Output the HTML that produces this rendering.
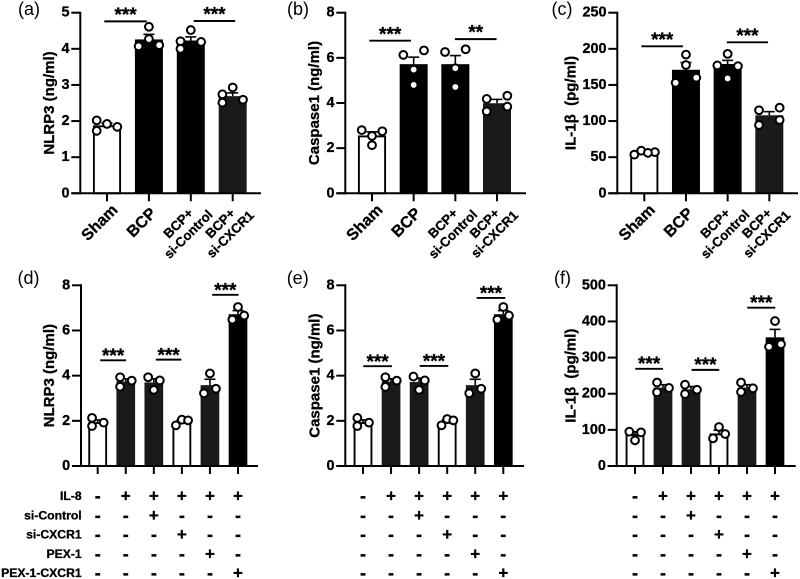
<!DOCTYPE html>
<html>
<head>
<meta charset="utf-8">
<style>
html,body{margin:0;padding:0;background:#fff;}
svg{display:block;filter:blur(0.3px);}
text{font-family:"Liberation Sans",sans-serif;fill:#000;}
text.heavy{stroke:#000;stroke-width:0.3px;}
</style>
</head>
<body>
<svg id="figure" width="800" height="579" viewBox="0 0 800 579" xmlns="http://www.w3.org/2000/svg"></svg>
<script>
// Categories and tick labels
const topCategories = [["Sham"], ["BCP"], ["BCP+", "si-Control"], ["BCP+", "si-CXCR1"]];
const treatmentNames = ["IL-8", "si-Control", "si-CXCR1", "PEX-1", "PEX-1-CXCR1"];
const treatmentSigns = [
  ["-", "+", "+", "+", "+", "+"],
  ["-", "-", "+", "-", "-", "-"],
  ["-", "-", "-", "+", "-", "-"],
  ["-", "-", "-", "-", "+", "-"],
  ["-", "-", "-", "-", "-", "+"]
];
const aTicks = [0, 1, 2, 3, 4, 5];
const bTicks = [0, 2, 4, 6, 8];
const cTicks = [0, 50, 100, 150, 200, 250];
const dTicks = [0, 2, 4, 6, 8];
const eTicks = [0, 2, 4, 6, 8];
const fTicks = [0, 100, 200, 300, 400, 500];

// Series values
const aMeans = [1.88, 4.26, 4.23, 2.69];
const aErrors = [0.06, 0.14, 0.10, 0.09];
const aPoints = [[2.02, 1.92, 1.84, 1.73], [4.61, 4.27, 4.07, 4.10], [4.52, 4.21, 4.19, 4.00], [2.93, 2.74, 2.59, 2.51]];
const aSlots = [[-1, 0, 1, -1], [0, 0, -1, 1], [0, -1, 1, -1], [0, -1, 1, -1]];

const bMeans = [2.56, 5.72, 5.72, 3.99];
const bErrors = [0.16, 0.31, 0.38, 0.17];
const bPoints = [[2.80, 2.75, 2.54, 2.13], [6.33, 6.13, 5.48, 4.80], [6.38, 6.26, 5.54, 4.71], [4.32, 4.18, 3.84, 3.63]];
const bSlots = [[-1, 1, 0, 0], [1, -1, 0, 0], [1, -1, 0, 0], [1, -1, 1, -1]];

const cMeans = [56, 171, 179, 108];
const cErrors = [2, 10, 5, 5];
const cPoints = [[59, 57, 56, 53.5], [192, 177.6, 160, 153], [193, 177, 176, 159], [118.5, 115, 101.5, 94.5]];
const cSlots = [[-0.3, 1.03, 0.35, -0.97], [0, 0, 1, -1], [0, -1, 1, 0], [1, -1, 1, -1]];

const dMeans = [1.94, 3.74, 3.70, 1.95, 3.58, 6.72];
const dErrors = [0.10, 0.12, 0.16, 0.08, 0.26, 0.16];
const dPoints = [[2.13, 1.92, 1.77], [3.93, 3.78, 3.51], [3.93, 3.79, 3.37], [2.05, 2.02, 1.80], [4.10, 3.42, 3.22], [7.04, 6.66, 6.48]];
const dSlots = [[-0.55, 0.58, -0.55], [-0.55, 0.58, -0.55], [-0.55, 0.58, 0], [0, 0.6, -0.58], [0, 0.58, -0.58], [0, 0.6, -0.55]];

const eMeans = [1.94, 3.74, 3.72, 1.95, 3.58, 6.72];
const eErrors = [0.10, 0.12, 0.17, 0.08, 0.26, 0.16];
const ePoints = [[2.13, 1.92, 1.77], [3.93, 3.78, 3.50], [3.96, 3.79, 3.37], [2.08, 2.02, 1.80], [4.10, 3.42, 3.22], [7.04, 6.66, 6.48]];
const eSlots = [[-0.55, 0.58, -0.55], [-0.55, 0.55, -0.55], [-0.55, 0.55, 0], [0, 0.6, -0.55], [0, 0.58, -0.58], [0, 0.55, -0.58]];

const fMeans = [88, 217, 212, 90, 217, 356];
const fErrors = [7, 8, 8, 9, 8, 22];
const fPoints = [[95, 93, 71], [231, 216, 204], [225, 211, 199], [108, 88.6, 76.6], [231, 215, 205], [401, 337, 330]];
const fSlots = [[-0.55, 0.58, 0], [-0.58, 0.58, -0.58], [-0.58, 0.58, -0.58], [0, 0.6, -0.58], [-0.58, 0.58, -0.58], [0, 0.58, -0.58]];

// Significance brackets: from category, to category, level, label
const aSig = [[-0.065, 0.95, 4.76, "***"], [2.07, 3.06, 4.77, "***"]];
const bSig = [[-0.065, 0.936, 6.76, "***"], [1.99, 2.99, 6.83, "**"]];
const cSig = [[-0.07, 0.93, 203.5, "***"], [1.98, 2.97, 209, "***"]];
const dSig = [[0.09, 1.01, 4.68, "***"], [2.07, 2.98, 4.71, "***"], [4.08, 5.02, 7.58, "***"]];
const eSig = [[0.01, 1.03, 4.42, "***"], [2.02, 3.04, 4.43, "***"], [4.05, 5.07, 7.44, "***"]];
const fSig = [[0.01, 1, 269, "***"], [2.02, 3.01, 266, "***"], [4.01, 5.01, 438, "***"]];

const panels = [
  {id:"a", title:"NLRP3 (ng/ml)", titleX:49.5, axisX:80.3, firstX:107, step:41.9, endX:261, y0:193.3, yTop:12.7, barW:28, slotPx:10.3, starDy:-10.4, labelX:18, labelY:15, means:aMeans, errors:aErrors, points:aPoints, slots:aSlots, ticks:aTicks, sig:aSig, fills:["#fff","#000","#000","#1a1a1a"]},
  {id:"b", title:"Caspase1 (ng/ml)", titleX:314.5, axisX:345.3, firstX:372, step:41.67, endX:526, y0:193.3, yTop:12.7, barW:28, slotPx:10.3, starDy:-10.4, labelX:287, labelY:15, means:bMeans, errors:bErrors, points:bPoints, slots:bSlots, ticks:bTicks, sig:bSig, fills:["#fff","#000","#000","#1a1a1a"]},
  {id:"c", title:"IL-1\u03B2\u00A0 (pg/ml)", titleX:571.2, axisX:617.3, firstX:644.3, step:41.67, endX:798, y0:193.3, yTop:12.7, barW:28, slotPx:10.3, starDy:-10.4, labelX:551.5, labelY:15, means:cMeans, errors:cErrors, points:cPoints, slots:cSlots, ticks:cTicks, sig:cSig, fills:["#fff","#000","#000","#1a1a1a"]},
  {id:"d", title:"NLRP3 (ng/ml)", titleX:49.5, axisX:81, firstX:97.7, step:28.06, endX:258, y0:466, yTop:285.3, barW:18.7, slotPx:10.3, starDy:-8.2, labelX:17.5, labelY:284, means:dMeans, errors:dErrors, points:dPoints, slots:dSlots, ticks:dTicks, sig:dSig, fills:["#fff","#1a1a1a","#1a1a1a","#fff","#1a1a1a","#000"]},
  {id:"e", title:"Caspase1 (ng/ml)", titleX:314.8, axisX:345.3, firstX:363, step:28.06, endX:524, y0:466, yTop:285.3, barW:18.7, slotPx:10.3, starDy:-8.4, labelX:286.7, labelY:284, means:eMeans, errors:eErrors, points:ePoints, slots:eSlots, ticks:eTicks, sig:eSig, fills:["#fff","#1a1a1a","#1a1a1a","#fff","#1a1a1a","#000"]},
  {id:"f", title:"IL-1\u03B2\u00A0 (pg/ml)", titleX:571.2, axisX:616.7, firstX:635, step:28, endX:795.7, y0:466, yTop:285.3, barW:18.7, slotPx:10.3, starDy:-8.8, labelX:554, labelY:284, means:fMeans, errors:fErrors, points:fPoints, slots:fSlots, ticks:fTicks, sig:fSig, fills:["#fff","#1a1a1a","#1a1a1a","#fff","#1a1a1a","#000"]}
];

const NS = "http://www.w3.org/2000/svg";
const figure = document.getElementById("figure");

function make(tag, parent, attrs, content) {
  const node = document.createElementNS(NS, tag);
  for (const key in attrs) node.setAttribute(key, attrs[key]);
  if (content !== undefined) node.textContent = content;
  parent.appendChild(node);
  return node;
}

function drawPanel(p) {
  const group = make("g", figure, {});
  
  

  const maxTick = p.ticks[p.ticks.length - 1];
  const yScale = function (v) { return p.y0 - (v / maxTick) * (p.y0 - p.yTop); };
  const xScale = function (i) { return p.firstX + i * p.step; };

  const panelLabel = make("text", group, {x:p.labelX, y:p.labelY, "font-size":18}, "(" + p.id + ")");
  
  

  const titleY = (p.y0 + p.yTop) / 2;
  const yTitle = make("text", group, {
    class:"heavy",
    transform:"translate(" + p.titleX + "," + titleY + ") rotate(-90)",
    "text-anchor":"middle", "dominant-baseline":"central", "font-size":15, "font-weight":"bold"
  }, p.title);
  
  

  // Bars
  p.means.forEach(function (m, i) {
    const top = yScale(m);
    const isWhite = p.fills[i] === "#fff";
    const bar = make("rect", group, {
      x:xScale(i) - p.barW / 2 + (isWhite ? 0.9 : 0), y:top + (isWhite ? 0.9 : 0),
      width:p.barW - (isWhite ? 1.8 : 0), height:p.y0 - top - (isWhite ? 0.9 : 0),
      fill:p.fills[i], stroke:isWhite ? "#000" : "none", "stroke-width":isWhite ? 1.9 : 0
    });
    
    
  });

  // Error bars
  p.errors.forEach(function (e, i) {
    const cx = xScale(i);
    const yHigh = yScale(p.means[i] + e);
    const yLow = yScale(p.means[i]);
    const stem = make("line", group, {x1:cx, x2:cx, y1:yLow, y2:yHigh, stroke:"#000", "stroke-width":1.6});
    
    
    const cap = make("line", group, {x1:cx - 5.5, x2:cx + 5.5, y1:yHigh, y2:yHigh, stroke:"#000", "stroke-width":1.6});
    
    
  });

  // Points
  p.points.forEach(function (series, i) {
    series.forEach(function (v, k) {
      const dot = make("circle", group, {
        cx:xScale(i) + p.slots[i][k] * p.slotPx, cy:yScale(v), r:3.9,
        fill:"#fff", stroke:"#000", "stroke-width":2
      });
      
      
    });
  });

  // Axes
  const yAxis = make("line", group, {x1:p.axisX, x2:p.axisX, y1:p.yTop - 1, y2:p.y0 + 1, stroke:"#000", "stroke-width":2});
  
  
  const xAxis = make("line", group, {x1:p.axisX - 9, x2:p.endX, y1:p.y0, y2:p.y0, stroke:"#000", "stroke-width":2});
  
  

  p.ticks.forEach(function (t) {
    const ty = yScale(t);
    const tick = make("line", group, {x1:p.axisX - 9, x2:p.axisX, y1:ty, y2:ty, stroke:"#000", "stroke-width":2});
    
    
    const label = make("text", group, {
      class:"heavy",
      x:p.axisX - 10.8, y:ty, "text-anchor":"end", "dominant-baseline":"central", "font-size":14.4, "font-weight":"bold"
    }, t);
    
    
  });

  p.means.forEach(function (m, i) {
    const tick = make("line", group, {x1:xScale(i), x2:xScale(i), y1:p.y0, y2:p.y0 + 8, stroke:"#000", "stroke-width":2});
    
    
  });

  // Significance brackets
  p.sig.forEach(function (s) {
    const x1 = xScale(s[0]);
    const x2 = xScale(s[1]);
    const by = yScale(s[2]);
    const line = make("line", group, {x1:x1, x2:x2, y1:by, y2:by, stroke:"#000", "stroke-width":1.9});
    
    
    const stars = make("text", group, {
      class:"heavy",
      x:(x1 + x2) / 2, y:by + p.starDy + 10, "text-anchor":"middle", "font-size":19, "font-weight":"bold"
    }, s[3]);
    
    
  });

  return {xScale:xScale, y0:p.y0};
}

function drawTopLabels(scale) {
  topCategories.forEach(function (lines, i) {
    const tx = scale.xScale(i);
    if (lines.length === 1) {
      const label = make("text", figure, {
        class:"heavy",
        transform:"translate(" + (tx - 7) + ",223) rotate(-45)",
        "text-anchor":"middle", "dominant-baseline":"central", "font-size":16, "font-weight":"bold"
      }, lines[0]);
      
      
    } else {
      const first = make("text", figure, {
        class:"heavy",
        transform:"translate(" + (tx - 12.5) + ",223.3) rotate(-45)",
        "text-anchor":"middle", "dominant-baseline":"central", "font-size":13.2, "font-weight":"bold"
      }, lines[0]);
      
      
      const second = make("text", figure, {
        class:"heavy",
        transform:"translate(" + (tx - 2.5) + ",234.2) rotate(-45)",
        "text-anchor":"middle", "dominant-baseline":"central", "font-size":13.2, "font-weight":"bold"
      }, lines[1]);
      
      
    }
  });
}

function drawTreatmentRows(scale, withNames) {
  treatmentSigns.forEach(function (row, r) {
    const rowY = 496 + r * 19.3;
    if (withNames) {
      const name = make("text", figure, {
        class:"heavy",
        x:81.7, y:rowY, "text-anchor":"end", "dominant-baseline":"central", "font-size":12.2, "font-weight":"bold"
      }, treatmentNames[r]);
      
      
    }
    row.forEach(function (sign, i) {
      const mark = make("text", figure, {
        class:"heavy",
        x:scale.xScale(i), y:rowY, "text-anchor":"middle", "dominant-baseline":"central",
        "font-size":sign === "+" ? 17 : 18, "font-weight":"bold"
      }, sign);
      
      
    });
  });
}

panels.forEach(function (p, index) {
  const scale = drawPanel(p);
  if (index < 3) drawTopLabels(scale);
  else drawTreatmentRows(scale, index === 3);
});
</script>
</body>
</html>
